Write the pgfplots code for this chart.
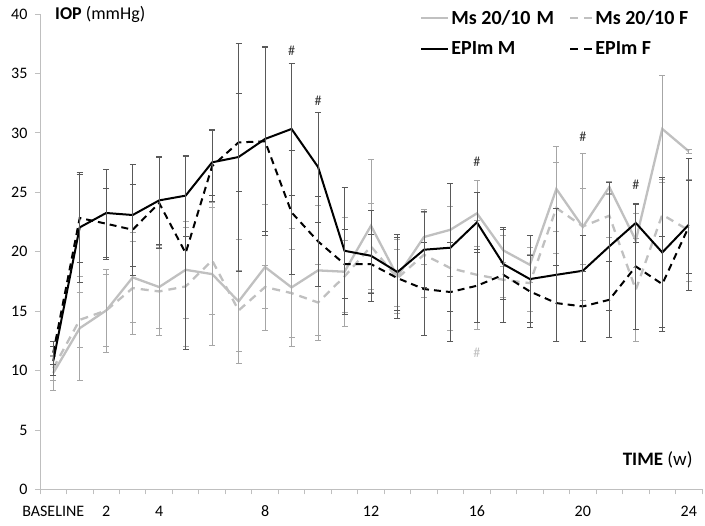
\documentclass[border=0pt]{standalone}
\usepackage{pgfplots}
\pgfplotsset{compat=1.18}
\usepackage{fontspec}
\setmainfont{Carlito}
\definecolor{msgray}{HTML}{C0C0C0}
\definecolor{axgray}{HTML}{BFBFBF}
\definecolor{barms}{HTML}{A6A6A6}
\definecolor{barep}{HTML}{595959}
\pgfplotsset{
  long legend/.style={legend image code/.code={\draw[##1] (0pt,0pt) -- (27pt,0pt);}},
  short legend/.style={legend image code/.code={\draw[##1, dash pattern=on 8pt off 6pt] (0pt,0pt) -- (22pt,0pt);}},
}

\begin{document}
\begin{tikzpicture}
\path[use as bounding box] (0pt,0pt) rectangle (705pt,526pt);
\begin{axis}[
    at={(40pt,36.5pt)}, anchor=south west,
    width=662pt, height=475.5pt, scale only axis,
    xmin=-0.5, xmax=24.5, ymin=0, ymax=40,
    axis lines*=left,
    axis line style={draw=axgray, line width=0.9pt},
    tick style={draw=axgray, line width=0.9pt},
    tick align=outside, major tick length=5pt,
    xtick={-0.5,0.5,...,24.5},
    x tick label as interval,
    xticklabels={BASELINE,,2,,4,,,,8,,,,12,,,,16,,,,20,,,,24},
    ytick={0,5,...,40},
    tick label style={font=\fontsize{16}{18}\selectfont},
    xticklabel style={yshift=-8pt},
    yticklabel style={xshift=-4pt},
    /pgf/number format/assume math mode=true,
    clip=false,
    legend columns=2,
    legend cell align=left,
    legend style={draw=none, fill=none, at={(0.987,1.017)}, anchor=north east,
        font=\bfseries\fontsize{20}{23}\selectfont,
        /tikz/every even column/.append style={column sep=13pt},
        row sep=12pt},
]
% Ms 20/10 M
\addplot[msgray, line width=2.3pt, long legend,
    error bars/.cd, y dir=both, y explicit,
    error bar style={solid, draw=barms, line width=0.7pt},
    error mark options={rotate=90, solid, draw=barms, line width=0.7pt, mark size=3pt}]
coordinates {
(0,9.8) +- (0,1.5)
(1,13.57) +- (0,4.4)
(2,15.06) +- (0,3.5)
(3,17.84) +- (0,3.8)
(4,17.03) +- (0,3.5)
(5,18.48) +- (0,4.1)
(6,18.12) +- (0,6.0)
(7,15.82) +- (0,5.2)
(8,18.71) +- (0,5.3)
(9,17.0) +- (0,5.0)
(10,18.43) +- (0,5.5)
(11,18.32) +- (0,4.6)
(12,22.19) +- (0,5.6)
(13,17.92) +- (0,3.1)
(14,21.24) +- (0,2.3)
(15,21.85) +- (0,3.9)
(16,23.23) +- (0,2.8)
(17,20.11) +- (0,1.3)
(18,18.9) +- (0,1.5)
(19,25.28) +- (0,3.6)
(20,22.08) +- (0,6.17)
(21,25.45) +- (0,0.5)
(22,20.95) +- (0,2.3)
(23,30.33) +- (0,4.49)
(24,28.45) +- (0,0.15)
};
\addlegendentry{Ms 20/10\hspace{6pt}M}
% Ms 20/10 F
\addplot[msgray, line width=2.3pt, dash pattern=on 8pt off 6pt, short legend,
    error bars/.cd, y dir=both, y explicit,
    error bar style={solid, draw=barms, line width=0.7pt},
    error mark options={rotate=90, solid, draw=barms, line width=0.7pt, mark size=3pt}]
coordinates {
(0,10.2) +- (0,1.0)
(1,14.27) +- (0,2.3)
(2,15.06) +- (0,3.0)
(3,16.94) +- (0,3.9)
(4,16.66) +- (0,3.7)
(5,17.08) +- (0,5.0)
(6,19.27) +- (0,4.5)
(7,15.06) +- (0,3.4)
(8,17.03) +- (0,1.8)
(9,16.52) +- (0,3.7)
(10,15.73) +- (0,3.2)
(11,17.92) +- (0,3.0)
(12,20.45) +- (0,3.6)
(13,17.78) +- (0,2.4)
(14,19.75) +- (0,3.6)
(15,18.62) +- (0,5.2)
(16,18.06) +- (0,4.6)
(17,17.64) +- (0,1.5)
(18,17.36) +- (0,2.4)
(19,23.68) +- (0,3.8)
(20,22.13) +- (0,3.2)
(21,23.03) +- (0,1.8)
(22,16.8) +- (0,4.35)
(23,23.12) +- (0,3.0)
(24,21.8) +- (0,4.3)
};
\addlegendentry{Ms 20/10 F}
% EPIm M
\addplot[black, line width=2pt, long legend,
    error bars/.cd, y dir=both, y explicit,
    error bar style={solid, draw=barep, line width=0.7pt},
    error mark options={rotate=90, solid, draw=barep, line width=0.7pt, mark size=3pt}]
coordinates {
(0,10.8) +- (0,1.2)
(1,22.05) +- (0,4.65)
(2,23.26) +- (0,3.7)
(3,23.09) +- (0,4.3)
(4,24.32) +- (0,3.74)
(5,24.72) +- (0,3.42)
(6,27.52) +- (0,2.75)
(7,27.97) +- (0,9.6)
(8,29.49) +- (0,7.75)
(9,30.33) +- (0,5.56)
(10,27.13) +- (0,4.63)
(11,20.08) +- (0,5.37)
(12,19.66) +- (0,3.8)
(13,18.29) +- (0,3.2)
(14,20.17) +- (0,3.2)
(15,20.34) +- (0,5.39)
(16,22.47) +- (0,2.5)
(17,18.96) +- (0,2.94)
(18,17.7) +- (0,3.67)
(19,18.06) +- (0,5.6)
(20,18.4) +- (0,3.0)
(21,20.45) +- (0,5.4)
(22,22.42) +- (0,1.6)
(23,19.94) +- (0,6.3)
(24,22.27) +- (0,5.55)
};
\addlegendentry{EPIm M}
% EPIm F
\addplot[black, line width=2pt, dash pattern=on 7pt off 5pt, short legend,
    error bars/.cd, y dir=both, y explicit,
    error bar style={solid, draw=barep, line width=0.7pt},
    error mark options={rotate=90, solid, draw=barep, line width=0.7pt, mark size=3pt}]
coordinates {
(0,11.5) +- (0,1.0)
(1,22.84) +- (0,3.7)
(2,22.36) +- (0,3.0)
(3,21.85) +- (0,3.85)
(4,24.1) +- (0,3.8)
(5,19.89) +- (0,8.1)
(6,27.2) +- (0,3.0)
(7,29.2) +- (0,4.1)
(8,29.29) +- (0,7.9)
(9,23.31) +- (0,5.2)
(10,20.87) +- (0,3.8)
(11,18.96) +- (0,2.9)
(12,18.96) +- (0,2.5)
(13,17.78) +- (0,3.4)
(14,16.86) +- (0,3.9)
(15,16.61) +- (0,4.16)
(16,17.14) +- (0,3.1)
(17,18.06) +- (0,4.0)
(18,16.66) +- (0,3.0)
(19,15.68) +- (0,3.2)
(20,15.4) +- (0,2.95)
(21,15.96) +- (0,3.2)
(22,18.76) +- (0,5.3)
(23,17.28) +- (0,4.0)
(24,22.1) +- (0,3.9)
};
\addlegendentry{EPIm F}

% significance marks
\node[font=\fontsize{14}{16}\selectfont, text=black!80] at (axis cs:9,36.9) {\#};
\node[font=\fontsize{14}{16}\selectfont, text=black!80] at (axis cs:10,32.7) {\#};
\node[font=\fontsize{14}{16}\selectfont, text=black!80] at (axis cs:16,27.6) {\#};
\node[font=\fontsize{14}{16}\selectfont, text=black!80] at (axis cs:20,29.7) {\#};
\node[font=\fontsize{14}{16}\selectfont, text=black!80] at (axis cs:22,25.6) {\#};
\node[font=\fontsize{14}{16}\selectfont, text=msgray] at (axis cs:16,11.5) {\#};

% axis titles
\node[anchor=west, font=\fontsize{18}{21}\selectfont, inner sep=0pt] at (rel axis cs:0.0227,1.0) {\textbf{IOP} (mmHg)};
\node[anchor=east, font=\fontsize{19}{22}\selectfont, inner sep=0pt] at (rel axis cs:0.986,0.062) {\textbf{TIME} (w)};
\end{axis}
\end{tikzpicture}
\end{document}
